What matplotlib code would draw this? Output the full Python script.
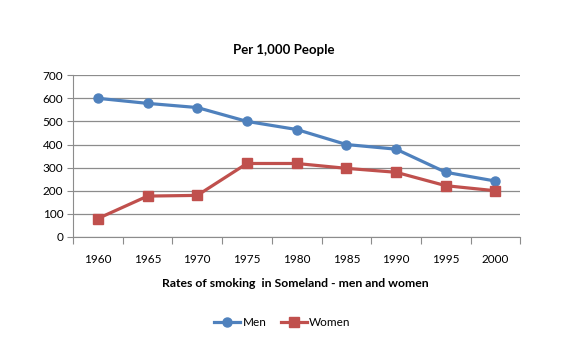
import matplotlib.pyplot as plt
import numpy as np

plt.rcParams['font.family'] = ['Lato', 'DejaVu Sans']

years = ['1960', '1965', '1970', '1975', '1980', '1985', '1990', '1995', '2000']
men = [600, 578, 560, 500, 465, 400, 380, 280, 242]
women = [80, 177, 180, 318, 318, 297, 280, 222, 200]

fig = plt.figure(figsize=(5.8, 3.58), dpi=100)
ax = fig.add_axes([0.126, 0.338, 0.771, 0.452])

x = np.arange(len(years))
ax.plot(x, men, color='#4F81BD', lw=2.3, marker='o', ms=6.5, label='Men')
ax.plot(x, women, color='#C0504D', lw=2.3, marker='s', ms=6.5, label='Women')

ax.set_xlim(-0.5, len(years) - 0.5)
ax.set_ylim(0, 700)
ax.set_yticks(range(0, 701, 100))
ax.yaxis.grid(True, color='#8C8C8C', lw=0.9)
ax.set_axisbelow(True)

# category ticks between the labels, like the spreadsheet chart
ax.set_xticks(np.arange(-0.5, len(years), 1.0))
ax.set_xticklabels([])
ax.set_xticks(x, minor=True)
ax.set_xticklabels(years, minor=True)
ax.tick_params(axis='x', which='major', length=5, color='#8C8C8C', direction='out')
ax.tick_params(axis='x', which='minor', length=0, pad=12, labelsize=8.5)
ax.tick_params(axis='y', length=4, color='#8C8C8C', labelsize=8.5, pad=3)

for s in ['top', 'right']:
    ax.spines[s].set_visible(False)
for s in ['left', 'bottom']:
    ax.spines[s].set_color('#8C8C8C')

fig.text(0.49, 0.86, 'Per 1,000 People', ha='center', va='center', fontsize=9.5, fontweight='bold')
fig.text(0.51, 0.207, 'Rates of smoking  in Someland - men and women', ha='center', va='center',
         fontsize=8.8, fontweight='bold')

fig.legend(loc='center', bbox_to_anchor=(0.487, 0.1), ncol=2, frameon=False, fontsize=8.5,
           handlelength=2.2, columnspacing=1.2, handletextpad=0.2)

fig.savefig('out.png', dpi=100)
